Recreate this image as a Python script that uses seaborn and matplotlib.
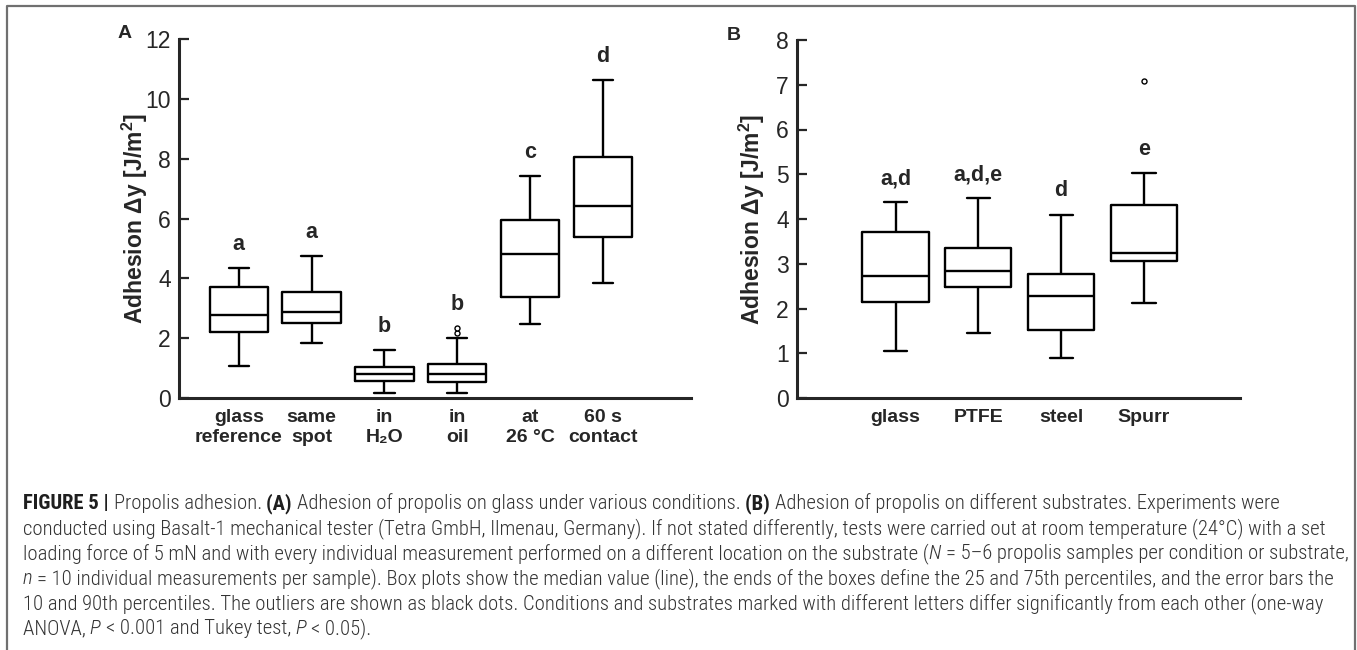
import numpy as np
import pandas as pd
import matplotlib
matplotlib.use("Agg")
import matplotlib.pyplot as plt
import seaborn as sns
from matplotlib import font_manager
from matplotlib.lines import Line2D

# ---------------- data ----------------
cats_a = ["glass\nreference", "same\nspot", "in\nH₂O", "in\noil", "at\n26 °C", "60 s\ncontact"]
low_a = [1.07, 1.85, 0.17, 0.17, 2.49, 3.85]
q1_a = [2.19, 2.50, 0.57, 0.54, 3.36, 5.39]
med_a = [2.76, 2.88, 0.81, 0.79, 4.81, 6.42]
q3_a = [3.72, 3.55, 1.04, 1.15, 5.95, 8.04]
high_a = [4.35, 4.74, 1.60, 2.00, 7.42, 10.64]
letters_a = ["a", "a", "b", "b", "c", "d"]
out_cat_a = ["in\noil", "in\noil"]
out_val_a = [2.18, 2.35]
yticks_a = [0, 2, 4, 6, 8, 10, 12]

cats_b = ["glass", "PTFE", "steel", "Spurr"]
low_b = [1.05, 1.46, 0.90, 2.13]
q1_b = [2.15, 2.48, 1.53, 3.06]
med_b = [2.72, 2.84, 2.29, 3.24]
q3_b = [3.70, 3.36, 2.77, 4.32]
high_b = [4.37, 4.46, 4.10, 5.03]
letters_b = ["a,d", "a,d,e", "d", "e"]
out_cat_b = ["Spurr"]
out_val_b = [7.08]
yticks_b = [0, 1, 2, 3, 4, 5, 6, 7, 8]

ylabel = "Adhesion Δy [J/m$^\\mathbf{2}$]"

caption_lines = [
    [("FIGURE 5 | ", "bold", "normal"), ("Propolis adhesion. ", "light", "normal"),
     ("(A) ", "bold", "normal"),
     ("Adhesion of propolis on glass under various conditions. ", "light", "normal"),
     ("(B) ", "bold", "normal"),
     ("Adhesion of propolis on different substrates. Experiments were", "light", "normal")],
    [("conducted using Basalt-1 mechanical tester (Tetra GmbH, Ilmenau, Germany). If not stated "
      "differently, tests were carried out at room temperature (24°C) with a set", "light", "normal")],
    [("loading force of 5 mN and with every individual measurement performed on a different "
      "location on the substrate (", "light", "normal"), ("N ", "light", "italic"),
     ("= 5–6 propolis samples per condition or substrate,", "light", "normal")],
    [("n ", "light", "italic"),
     ("= 10 individual measurements per sample). Box plots show the median value (line), the ends "
      "of the boxes define the 25 and 75th percentiles, and the error bars the", "light", "normal")],
    [("10 and 90th percentiles. The outliers are shown as black dots. Conditions and substrates "
      "marked with different letters differ significantly from each other (one-way", "light", "normal")],
    [("ANOVA, ", "light", "normal"), ("P ", "light", "italic"),
     ("< 0.001 and Tukey test, ", "light", "normal"), ("P ", "light", "italic"),
     ("< 0.05).", "light", "normal")],
]

# ---------------- style ----------------
sns.set_style("ticks")
plt.rcParams["font.family"] = ["Liberation Sans", "DejaVu Sans"]
plt.rcParams["mathtext.fontset"] = "custom"
plt.rcParams["mathtext.rm"] = "Liberation Sans"
plt.rcParams["mathtext.bf"] = "Liberation Sans:bold"

W, H = 1357, 650
fig = plt.figure(figsize=(W / 100, H / 100), dpi=100)
fig.patch.set_facecolor("white")


def fx(px):
    return px / W


def fy(py):
    return 1 - py / H


def long_df(cats, *stats):
    rows = []
    for i, c in enumerate(cats):
        for s in stats:
            rows.append((c, s[i]))
    return pd.DataFrame(rows, columns=["cond", "val"])


def panel(ax, cats, lo, q1, md, q3, hi, letters, oc, ov, yticks, xlim, near_outliers):
    df = long_df(cats, lo, q1, md, q3, hi)
    sns.boxplot(data=df, x="cond", y="val", order=cats, whis=(0, 100), width=0.8,
                fill=False, color="black", linewidth=1.7, capwidths=0.28, ax=ax)
    sns.stripplot(x=oc, y=ov, order=cats, jitter=False, color="white", edgecolor="black",
                  linewidth=1.0, size=3.6, ax=ax)
    for i, (c, l) in enumerate(zip(cats, letters)):
        top = hi[i]
        if near_outliers:
            vals = [v for cc, v in zip(oc, ov) if cc == c]
            if vals:
                top = max(top, max(vals))
        ax.annotate(l, xy=(i, top), xytext=(0, 17), textcoords="offset points",
                    ha="center", va="center", fontsize=15.5, fontweight="bold")
    ax.set_xlim(*xlim)
    ax.set_ylim(yticks[0], yticks[-1])
    ax.set_yticks(yticks)
    ax.set_xlabel("")
    ax.set_ylabel(ylabel, fontsize=16.5, fontweight="bold")
    ax.tick_params(axis="y", direction="in", length=7, width=1.6, labelsize=16.5, pad=6)
    ax.tick_params(axis="x", length=0, labelsize=14, pad=8)
    for t in ax.get_xticklabels():
        t.set_fontweight("bold")
        t.set_linespacing(1.25)
    for s in ["top", "right"]:
        ax.spines[s].set_visible(False)
    for s in ["left", "bottom"]:
        ax.spines[s].set_linewidth(2.2)
    ax.set_facecolor("white")


axA = fig.add_axes([fx(179), fy(398), (691 - 179) / W, (398 - 39) / H])
axB = fig.add_axes([fx(797), fy(398), (1240 - 797) / W, (398 - 40) / H])

panel(axA, cats_a, low_a, q1_a, med_a, q3_a, high_a, letters_a, out_cat_a, out_val_a,
      yticks_a, (-0.82, 6.21), True)
panel(axB, cats_b, low_b, q1_b, med_b, q3_b, high_b, letters_b, out_cat_b, out_val_b,
      yticks_b, (-1.19, 4.16), False)

axA.yaxis.set_label_coords(-44 / 512, 0.5)
axB.yaxis.set_label_coords(-45 / 443, 0.5)
for ax in (axA, axB):
    ax.yaxis.label.set_va("center")

fig.text(fx(125), fy(33), "A", fontsize=14, fontweight="bold", ha="center", va="center")
fig.text(fx(734), fy(35), "B", fontsize=14, fontweight="bold", ha="center", va="center")

# frame
fig.add_artist(Line2D([fx(7), fx(7), fx(1355), fx(1355)], [fy(660), fy(6), fy(6), fy(660)],
                      transform=fig.transFigure, color="#707070", lw=1.6))

# ---------------- caption ----------------
names = {f.name for f in font_manager.fontManager.ttflist}
cap_family = "Liberation Sans"
for cand in ["Roboto Condensed", "Liberation Sans Narrow", "Open Sans Condensed"]:
    if cand in names:
        cap_family = cand
        break
cap_fam = [cap_family, "DejaVu Sans"]

renderer = fig.canvas.get_renderer()


def seg_width(s, size, weight, style):
    t1 = fig.text(0, 0, "|" + s + "|", fontsize=size, fontweight=weight, fontstyle=style,
                  family=cap_fam)
    t2 = fig.text(0, 0, "||", fontsize=size, fontweight=weight, fontstyle=style, family=cap_fam)
    w = t1.get_window_extent(renderer).width - t2.get_window_extent(renderer).width
    t1.remove()
    t2.remove()
    return w


base = 12.0
w1 = sum(seg_width(s, base, wt, st) for s, wt, st in caption_lines[0])
cap_size = base * (1280 - 23) / w1

y0 = 509
for k, line in enumerate(caption_lines):
    x = 23
    yb = y0 + 25 * k
    for s, wt, st in line:
        col = "#1e1e1e" if wt == "bold" else "#333333"
        fig.text(fx(x), fy(yb), s, fontsize=cap_size, fontweight=wt, fontstyle=st,
                 family=cap_fam, color=col, ha="left", va="baseline")
        x += seg_width(s, cap_size, wt, st)

fig.savefig("out.png", dpi=100, facecolor="white")
